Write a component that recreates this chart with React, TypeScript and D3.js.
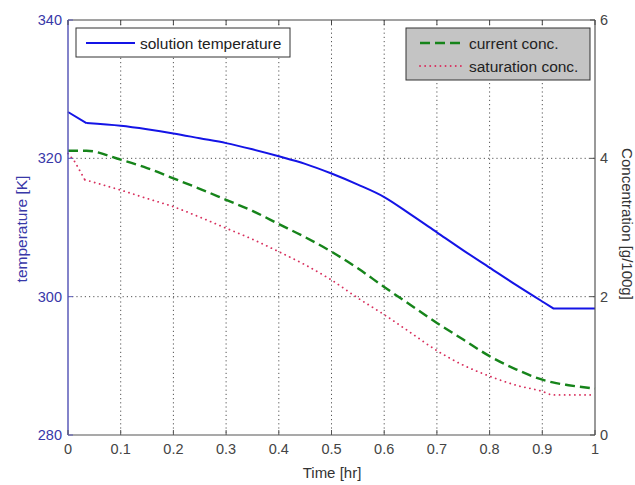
import React from "react";
import * as d3 from "d3";

const tempTime = [0, 0.035, 0.1, 0.15, 0.2, 0.25, 0.3, 0.35, 0.4, 0.45, 0.5, 0.55, 0.6, 0.65, 0.7, 0.75, 0.8, 0.85, 0.9, 0.921, 1.0];
const temperature = [326.7, 325.1, 324.7, 324.2, 323.6, 322.9, 322.2, 321.3, 320.3, 319.2, 317.8, 316.2, 314.4, 311.9, 309.3, 306.7, 304.2, 301.7, 299.3, 298.3, 298.3];

const concTime = [0, 0.035, 0.1, 0.15, 0.2, 0.25, 0.3, 0.35, 0.4, 0.45, 0.5, 0.55, 0.6, 0.65, 0.7, 0.75, 0.8, 0.85, 0.9, 0.92, 0.95, 1.0];
const currentConc = [4.11, 4.11, 3.98, 3.86, 3.71, 3.56, 3.40, 3.24, 3.05, 2.86, 2.65, 2.41, 2.14, 1.88, 1.62, 1.38, 1.14, 0.95, 0.80, 0.76, 0.72, 0.67];

const satTime = [0, 0.013, 0.032, 0.1, 0.15, 0.2, 0.25, 0.3, 0.35, 0.4, 0.45, 0.5, 0.55, 0.6, 0.65, 0.7, 0.75, 0.8, 0.85, 0.9, 0.92, 1.0];
const saturationConc = [4.07, 3.95, 3.69, 3.54, 3.42, 3.30, 3.15, 2.99, 2.83, 2.65, 2.46, 2.24, 1.98, 1.74, 1.48, 1.22, 1.01, 0.85, 0.72, 0.63, 0.58, 0.58];

const xTicks = [0, 0.1, 0.2, 0.3, 0.4, 0.5, 0.6, 0.7, 0.8, 0.9, 1];
const xTickLabels = ["0", "0.1", "0.2", "0.3", "0.4", "0.5", "0.6", "0.7", "0.8", "0.9", "1"];
const leftTicks = [280, 300, 320, 340];
const rightTicks = [0, 2, 4, 6];

const seriesNames = ["solution temperature", "current conc.", "saturation conc."];
const xLabel = "Time [hr]";
const leftLabel = "temperature [K]";
const rightLabel = "Concentration [g/100g]";

const L = 68, R = 595, T = 20, B = 435;
const FONT = "'Liberation Sans', Arial, sans-serif";

type Pt = [number, number];

export default function App() {
  const x = d3.scaleLinear().domain([0, 1]).range([L, R]);
  const yL = d3.scaleLinear().domain([280, 340]).range([B, T]);
  const yR = d3.scaleLinear().domain([0, 6]).range([B, T]);

  const tempPts: Pt[] = tempTime.map((t, i) => [x(t), yL(temperature[i])]);
  const lin = d3.line<Pt>().x((d) => d[0]).y((d) => d[1]);
  const smooth = d3.line<Pt>().x((d) => d[0]).y((d) => d[1]).curve(d3.curveMonotoneX);
  const n = tempPts.length;
  const tempPath =
    (lin(tempPts.slice(0, 2)) || "") +
    (smooth(tempPts.slice(1, n - 2)) || "") +
    (lin(tempPts.slice(n - 3)) || "");

  const curPts: Pt[] = concTime.map((t, i) => [x(t), yR(currentConc[i])]);
  const curPath = smooth(curPts) || "";
  const satPts: Pt[] = satTime.map((t, i) => [x(t), yR(saturationConc[i])]);
  const satPath = (lin(satPts.slice(0, 3)) || "") + (smooth(satPts.slice(2)) || "");

  const blue = "#1414e6";
  const green = "#16841a";
  const red = "#d8305e";
  const axisBlue = "#5a5ab8";
  const labelBlue = "#3838a8";
  const gridCol = "#555";

  return (
    <svg width={635} height={485} style={{ position: "absolute", left: 0, top: 0, background: "#fff" }} fontFamily={FONT}>
      <rect x={0} y={0} width={635} height={485} fill="#fff" />
      {/* grid */}
      {xTicks.filter((t) => t > 0 && t < 1).map((t) => (
        <line key={"gx" + t} x1={x(t)} x2={x(t)} y1={T} y2={B} stroke={gridCol} strokeWidth={1} strokeDasharray="1.2,3" />
      ))}
      {leftTicks.filter((t) => t > 280 && t < 340).map((t) => (
        <line key={"gy" + t} x1={L} x2={R} y1={yL(t)} y2={yL(t)} stroke={gridCol} strokeWidth={1} strokeDasharray="1.2,3" />
      ))}

      {/* data */}
      <path d={satPath} fill="none" stroke={red} strokeWidth={1.8} strokeDasharray="0.1,5" strokeLinecap="round" />
      <path d={curPath} fill="none" stroke={green} strokeWidth={2.4} strokeDasharray="10,5" />
      <path d={tempPath} fill="none" stroke={blue} strokeWidth={2} />

      {/* frame */}
      <line x1={L} x2={R} y1={T} y2={T} stroke="#444" strokeWidth={1} />
      <line x1={L} x2={R} y1={B} y2={B} stroke="#555" strokeWidth={1.2} />
      <line x1={R} x2={R} y1={T} y2={B} stroke="#555" strokeWidth={1.2} />
      <line x1={L} x2={L} y1={T} y2={B} stroke={axisBlue} strokeWidth={1.5} />

      {/* x ticks */}
      {xTicks.map((t, i) => (
        <g key={"xt" + t}>
          <line x1={x(t)} x2={x(t)} y1={B} y2={B - 5} stroke="#555" />
          <line x1={x(t)} x2={x(t)} y1={T} y2={T + 5} stroke="#444" />
          <text x={x(t)} y={454} textAnchor="middle" fontSize={14.5} fill="#444">{xTickLabels[i]}</text>
        </g>
      ))}
      {/* left ticks */}
      {leftTicks.map((t) => (
        <g key={"lt" + t}>
          <line x1={L} x2={L + 5} y1={yL(t)} y2={yL(t)} stroke={axisBlue} />
          <text x={62} y={yL(t) + 5} textAnchor="end" fontSize={14.5} fill={labelBlue}>{t}</text>
        </g>
      ))}
      {/* right ticks */}
      {rightTicks.map((t) => (
        <g key={"rt" + t}>
          <line x1={R - 5} x2={R} y1={yR(t)} y2={yR(t)} stroke="#555" />
          <text x={600} y={yR(t) + 5} textAnchor="start" fontSize={14.5} fill="#444">{t}</text>
        </g>
      ))}

      {/* axis labels */}
      <text x={332} y={478} textAnchor="middle" fontSize={15} fill="#333">{xLabel}</text>
      <text transform="translate(27,229) rotate(-90)" textAnchor="middle" fontSize={15.5} fill={labelBlue}>{leftLabel}</text>
      <text transform="translate(622,224) rotate(90)" textAnchor="middle" fontSize={15} fill="#333">{rightLabel}</text>

      {/* legend 1 */}
      <rect x={76} y={28} width={214} height={29} fill="#fff" stroke="#333" strokeWidth={1} />
      <line x1={86} x2={135} y1={43} y2={43} stroke={blue} strokeWidth={2} />
      <text x={140} y={48.5} fontSize={15.5} fill="#222">{seriesNames[0]}</text>

      {/* legend 2 */}
      <rect x={406} y={28} width={184} height={52} fill="#c4c4c4" stroke="#333" strokeWidth={1} />
      <line x1={420} x2={464} y1={43} y2={43} stroke={green} strokeWidth={2.4} strokeDasharray="10,5" />
      <text x={469} y={48.5} fontSize={15.5} fill="#222">{seriesNames[1]}</text>
      <line x1={420} x2={464} y1={66} y2={66} stroke={red} strokeWidth={1.8} strokeDasharray="0.1,5" strokeLinecap="round" />
      <text x={469} y={71.5} fontSize={15.5} fill="#222">{seriesNames[2]}</text>
    </svg>
  );
}
